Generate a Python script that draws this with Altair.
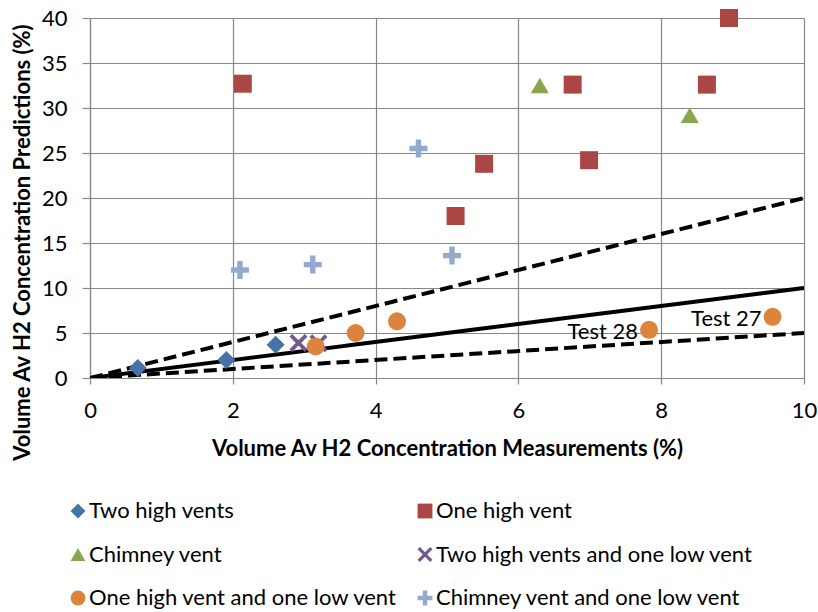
import altair as alt
import pandas as pd

# ---------------- data ----------------
series_names = [
    "Two high vents",
    "One high vent",
    "Chimney vent",
    "Two high vents and one low vent",
    "One high vent and one low vent",
    "Chimney vent and one low vent",
]
series_colors = ["#4572A7", "#AA4643", "#89A54E", "#71588F", "#DB843D", "#93A9CF"]

X_PATH = "M-1,-0.7L-0.7,-1L0,-0.3L0.7,-1L1,-0.7L0.3,0L1,0.7L0.7,1L0,0.3L-0.7,1L-1,0.7L-0.3,0Z"
PLUS_PATH = "M-1,-0.3L-0.3,-0.3L-0.3,-1L0.3,-1L0.3,-0.3L1,-0.3L1,0.3L0.3,0.3L0.3,1L-0.3,1L-0.3,0.3L-1,0.3Z"
series_shapes = ["diamond", "square", "triangle-up", X_PATH, "circle", PLUS_PATH]

# legend fills column by column: this order shows the entries row by row
legend_order = [0, 2, 4, 1, 3, 5]

two_high_x = [0.67, 1.91, 2.60]
two_high_y = [1.1, 2.0, 3.7]
one_high_x = [2.14, 5.12, 5.52, 6.76, 6.99, 8.64, 8.95]
one_high_y = [32.7, 18.0, 23.8, 32.6, 24.2, 32.6, 40.0]
chimney_x = [6.30, 8.40]
chimney_y = [32.5, 29.2]
two_high_low_x = [2.92, 3.20]
two_high_low_y = [3.9, 3.85]
one_high_low_x = [3.16, 3.72, 4.30, 7.83, 9.56]
one_high_low_y = [3.5, 5.0, 6.3, 5.35, 6.8]
chimney_low_x = [2.10, 3.12, 4.60, 5.07]
chimney_low_y = [12.0, 12.6, 25.5, 13.6]

ref_kinds = ["y = x", "y = 2x", "y = x/2"]
ref_x_start = [0, 0, 0]
ref_y_start = [0, 0, 0]
ref_x_end = [10, 10, 10]
ref_y_end = [10, 20, 5]

label_text = ["Test 28", "Test 27"]
label_x = [7.83, 9.56]
label_y = [5.35, 6.8]

x_ticks = [0, 2, 4, 6, 8, 10]
y_ticks = [0, 5, 10, 15, 20, 25, 30, 35, 40]

# ---------------- tables ----------------
xs = [two_high_x, one_high_x, chimney_x, two_high_low_x, one_high_low_x, chimney_low_x]
ys = [two_high_y, one_high_y, chimney_y, two_high_low_y, one_high_low_y, chimney_low_y]
rows = []
for name, sx, sy in zip(series_names, xs, ys):
    for a, b in zip(sx, sy):
        rows.append({"series": name, "x": a, "y": b})
points_df = pd.DataFrame(rows)

ref_rows = []
for k, x0, y0, x1, y1 in zip(ref_kinds, ref_x_start, ref_y_start, ref_x_end, ref_y_end):
    ref_rows.append({"kind": k, "x": x0, "y": y0})
    ref_rows.append({"kind": k, "x": x1, "y": y1})
ref_df = pd.DataFrame(ref_rows)

labels_df = pd.DataFrame({"text": label_text, "x": label_x, "y": label_y})

dom = [series_names[i] for i in legend_order]
col_range = [series_colors[i] for i in legend_order]
shape_range = [series_shapes[i] for i in legend_order]

FONT = "Lato"
GRID = "#878787"

x_scale = alt.Scale(domain=[0, 10], nice=False)
y_scale = alt.Scale(domain=[0, 40], nice=False)

x_axis = alt.Axis(
    values=x_ticks, format="d", labelFlush=False,
    title="Volume Av H2 Concentration Measurements (%)",
    grid=True, gridColor=GRID, gridWidth=1.2,
    domainColor=GRID, domainWidth=1.2, tickColor=GRID, tickWidth=1.2, tickSize=6,
    labelFont=FONT, labelFontSize=22, labelColor="#000000", labelPadding=16,
    titleFont=FONT, titleFontSize=22, titleFontWeight="bold", titleColor="#000000",
    titleX=357, titleY=70, titleBaseline="middle", titleAlign="center",
)
y_axis = alt.Axis(
    values=y_ticks, format="d", labelFlush=False,
    title="Volume Av H2 Concentration Predictions (%)",
    grid=True, gridColor=GRID, gridWidth=1.2,
    domainColor=GRID, domainWidth=1.2, tickColor=GRID, tickWidth=1.2, tickSize=8,
    labelFont=FONT, labelFontSize=22, labelColor="#000000", labelPadding=15,
    titleFont=FONT, titleFontSize=22, titleFontWeight="bold", titleColor="#000000",
    titleX=-68, titleY=224, titleBaseline="middle", titleAlign="center", titleAngle=-90,
)

lines = alt.Chart(ref_df).mark_line(color="black", strokeWidth=4, clip=True).encode(
    x=alt.X("x:Q", scale=x_scale, axis=x_axis),
    y=alt.Y("y:Q", scale=y_scale, axis=y_axis),
    detail="kind:N",
    strokeDash=alt.StrokeDash(
        "kind:N",
        scale=alt.Scale(domain=ref_kinds, range=[[1, 0], [13, 6], [13, 6]]),
        legend=None,
    ),
)

points = alt.Chart(points_df).mark_point(filled=True, size=324, opacity=1, strokeWidth=0).encode(
    x=alt.X("x:Q", scale=x_scale),
    y=alt.Y("y:Q", scale=y_scale),
    color=alt.Color(
        "series:N",
        scale=alt.Scale(domain=dom, range=col_range),
        legend=alt.Legend(
            title=None, orient="none", legendX=-23, legendY=482, columns=2,
            labelFont=FONT, labelFontSize=22, labelColor="#000000", labelOffset=0,
            symbolSize=220, symbolStrokeWidth=0, rowPadding=21.5, columnPadding=16,
            padding=0, labelLimit=400,
        ),
    ),
    shape=alt.Shape("series:N", scale=alt.Scale(domain=dom, range=shape_range)),
)

texts = alt.Chart(labels_df).mark_text(
    align="right", baseline="middle", dx=-11, dy=2, font=FONT, fontSize=22, color="#000000"
).encode(
    x=alt.X("x:Q", scale=x_scale),
    y=alt.Y("y:Q", scale=y_scale),
    text="text:N",
)

chart = alt.layer(lines, points, texts).properties(
    width=714, height=360,
    autosize=alt.AutoSizeParams(type="none"),
    padding={"left": 90, "top": 18, "right": 14, "bottom": 234},
    background="white",
).configure_view(stroke=None)

chart.save("out.html", embed_options={"renderer": "svg", "actions": False})
